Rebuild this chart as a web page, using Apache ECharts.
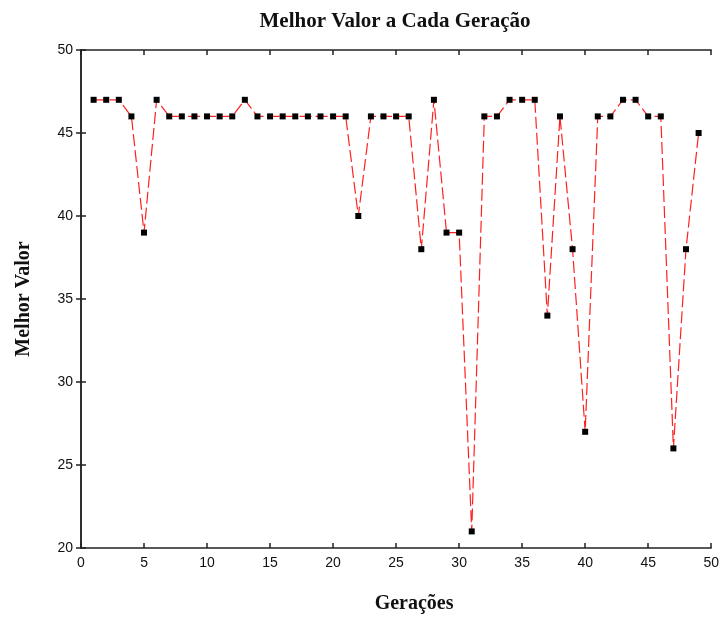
<!DOCTYPE html>
<html>
<head>
<meta charset="utf-8">
<script src="https://cdn.jsdelivr.net/npm/echarts@6/dist/echarts.min.js"></script>
<style>
  html, body { margin: 0; padding: 0; background: #fff; }
  #chart { width: 722px; height: 619px; }
</style>
</head>
<body>
<div id="chart"></div>
<script>
// gerações 1..49 e melhor valor de cada uma
const geracoes = [1, 2, 3, 4, 5, 6, 7, 8, 9, 10, 11, 12, 13, 14, 15, 16, 17, 18, 19, 20,
    21, 22, 23, 24, 25, 26, 27, 28, 29, 30, 31, 32, 33, 34, 35, 36, 37, 38, 39, 40,
    41, 42, 43, 44, 45, 46, 47, 48, 49];
const melhorValor = [47, 47, 47, 46, 39, 47, 46, 46, 46, 46, 46, 46, 47, 46, 46, 46, 46, 46, 46, 46,
    46, 40, 46, 46, 46, 46, 38, 47, 39, 39, 21, 46, 46, 47, 47, 47, 34, 46, 38, 27,
    46, 46, 47, 47, 46, 46, 26, 38, 45];
const xTicks = [0, 5, 10, 15, 20, 25, 30, 35, 40, 45, 50];
const yTicks = [20, 25, 30, 35, 40, 45, 50];

(function () {
    let chart = echarts.init(document.querySelector("#chart"));

    const axisLine = { show: true, lineStyle: { color: '#222', width: 1.5 } };
    const tick = { show: true, inside: true, length: 5, lineStyle: { color: '#222', width: 1.5 } };
    const tickFont = { fontFamily: 'Liberation Sans', fontSize: 14, color: '#111' };
    const nameFont = { fontFamily: 'Liberation Serif', fontWeight: 'bold', fontSize: 20, color: '#111' };

    let option = {
        animation: false,
        backgroundColor: '#fff',
        title: {
            text: 'Melhor Valor a Cada Geração',
            left: 390,
            textAlign: 'center',
            top: 6,
            textStyle: { fontFamily: 'Liberation Serif', fontWeight: 'bold', fontSize: 21, color: '#111' }
        },
        grid: { left: 81, right: 7, top: 50, bottom: 69 },
        xAxis: [
            {
                type: 'value', min: xTicks[0], max: xTicks[xTicks.length - 1], interval: 5,
                name: 'Gerações', nameLocation: 'middle', nameGap: 46,
                nameTextStyle: Object.assign({ padding: [0, 0, 0, 36] }, nameFont),
                axisLine: axisLine, axisTick: tick, splitLine: { show: false },
                axisLabel: Object.assign({ margin: 8 }, tickFont)
            },
            {
                type: 'value', position: 'top', min: xTicks[0], max: xTicks[xTicks.length - 1], interval: 5,
                axisLine: axisLine, axisTick: tick, splitLine: { show: false }, axisLabel: { show: false }
            }
        ],
        yAxis: [
            {
                type: 'value', min: yTicks[0], max: yTicks[yTicks.length - 1], interval: 5,
                name: 'Melhor Valor', nameLocation: 'middle', nameGap: 47, nameTextStyle: nameFont,
                axisLine: axisLine, axisTick: tick, splitLine: { show: false },
                axisLabel: Object.assign({ margin: 8 }, tickFont)
            },
            {
                type: 'value', position: 'right', min: yTicks[0], max: yTicks[yTicks.length - 1], interval: 5,
                axisLine: axisLine, axisTick: tick, splitLine: { show: false }, axisLabel: { show: false }
            }
        ],
        series: [
            {
                type: 'line',
                data: geracoes.map((g, i) => [g, melhorValor[i]]),
                symbol: 'rect',
                symbolSize: 6,
                itemStyle: { color: '#000' },
                lineStyle: { color: '#ff2020', width: 1.2, type: [12, 4] },
                z: 3
            }
        ]
    };

    chart.setOption(option);
})();
</script>
</body>
</html>
